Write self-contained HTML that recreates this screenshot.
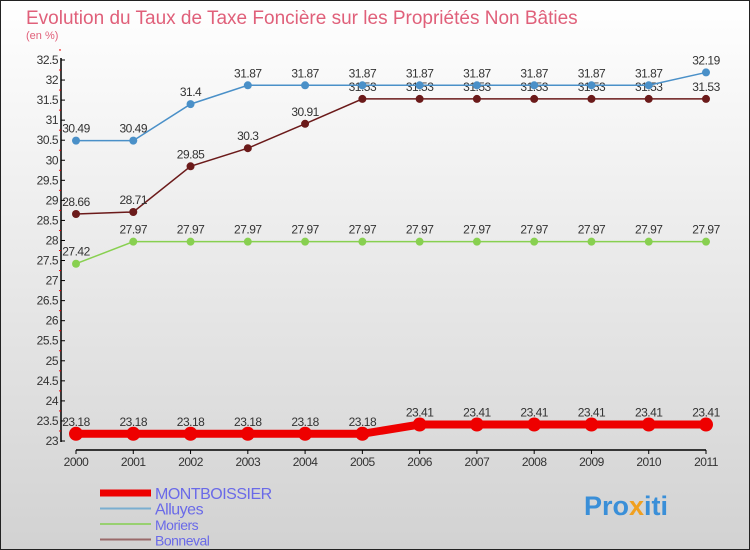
<!DOCTYPE html>
<html><head><meta charset="utf-8"><style>
body{margin:0}
#c{width:750px;height:550px;position:relative;overflow:hidden}
text{font-family:"Liberation Sans",sans-serif}
</style></head><body>
<div id="c">
<svg id="s" width="750" height="550" xmlns="http://www.w3.org/2000/svg">
<defs><linearGradient id="bg" x1="0" y1="0" x2="0" y2="1"><stop offset="0" stop-color="#ffffff"/><stop offset="1" stop-color="#d2d2d2"/></linearGradient></defs>
<rect x="0.5" y="0.5" width="749" height="549" fill="url(#bg)" stroke="#222"/>
<text x="26" y="24" font-size="19" fill="#e0607a">Evolution du Taux de Taxe Foncière sur les Propriétés Non Bâties</text>
<text x="26" y="39" font-size="11" fill="#e0607a">(en %)</text>
<g id="axes"></g><g id="series"></g><g id="legend"></g>
<text x="584" y="515" font-size="27" font-weight="bold" fill="#3a8fd8">Pro<tspan fill="#f0a020">x</tspan>iti</text>
</svg></div>
<script>
const years=[2000,2001,2002,2003,2004,2005,2006,2007,2008,2009,2010,2011];
const montboissier=[23.18,23.18,23.18,23.18,23.18,23.18,23.41,23.41,23.41,23.41,23.41,23.41];
const alluyes=[30.49,30.49,31.4,31.87,31.87,31.87,31.87,31.87,31.87,31.87,31.87,32.19];
const moriers=[27.42,27.97,27.97,27.97,27.97,27.97,27.97,27.97,27.97,27.97,27.97,27.97];
const bonneval=[28.66,28.71,29.85,30.3,30.91,31.53,31.53,31.53,31.53,31.53,31.53,31.53];
const yTicks=[23,23.5,24,24.5,25,25.5,26,26.5,27,27.5,28,28.5,29,29.5,30,30.5,31,31.5,32,32.5];
const NS="http://www.w3.org/2000/svg";
const X=i=>76+i*(630/11);
const Y=v=>441-(v-23)*(381/9.5);
function mk(p,t,a){const e=document.createElementNS(NS,t);for(const k in a)e.setAttribute(k,a[k]);p.appendChild(e);return e;}
const ax=document.getElementById('axes');
let e=mk(ax,'line',{x1:61,y1:58,x2:61,y2:442,stroke:'#000','stroke-width':1.5});


e=mk(ax,'line',{x1:76,y1:450,x2:706,y2:450,stroke:'#000','stroke-width':1.5});


yTicks.forEach(v=>{
 mk(ax,'line',{x1:61,y1:Y(v),x2:65,y2:Y(v),stroke:'#000'});
 mk(ax,'line',{x1:59,y1:Y(v+0.25),x2:61,y2:Y(v+0.25),stroke:'#e00'});
 const t=mk(ax,'text',{x:58,y:Y(v)+4,'font-size':12,'text-anchor':'end',fill:'#333','letter-spacing':'-0.5'});
 t.textContent=String(v);
 
 
});
years.forEach((yr,i)=>{
 mk(ax,'line',{x1:X(i),y1:450,x2:X(i),y2:454,stroke:'#000'});
 const t=mk(ax,'text',{x:X(i),y:466,'font-size':12,'text-anchor':'middle',fill:'#333','letter-spacing':'-0.5'});
 t.textContent=String(yr);
 
 
});
const sg=document.getElementById('series');
function series(name,vals,col,w,r){
 const g=mk(sg,'g',{});
 
 
 const pl=mk(g,'polyline',{points:vals.map((v,i)=>X(i)+','+Y(v)).join(' '),fill:'none',stroke:col,'stroke-width':w});
 
 
 vals.forEach((v,i)=>{
  const c=mk(g,'circle',{cx:X(i),cy:Y(v),r:r,fill:col});
  
  
  const t=mk(g,'text',{x:X(i),y:Y(v)-8,'font-size':12,'text-anchor':'middle',fill:'#333','letter-spacing':'-0.5'});
  t.textContent=String(v);
  
  
 });
}
series('moriers',moriers,'#88d050',1.5,4);
series('bonneval',bonneval,'#6b1a1a',1.5,4);
series('alluyes',alluyes,'#4a90c8',1.5,4);
series('montboissier',montboissier,'#ee0000',8,7);
const lg=document.getElementById('legend');
const items=[['MONTBOISSIER','#ee0000',7,16],['Alluyes','#7aaed0',2,16],['Moriers','#98d070',2,14],['Bonneval','#9a6a6a',2,14]];
items.forEach((it,k)=>{
 const y=493+k*15.5;
 const g=mk(lg,'g',{});
 
 
 mk(g,'line',{x1:100,y1:y,x2:151,y2:y,stroke:it[1],'stroke-width':it[2]});
 const t=mk(g,'text',{x:155,y:y+6,'font-size':it[3],fill:'#6a6ae8','letter-spacing':'-0.5'});
 t.textContent=it[0];
});
</script>
</body></html>
